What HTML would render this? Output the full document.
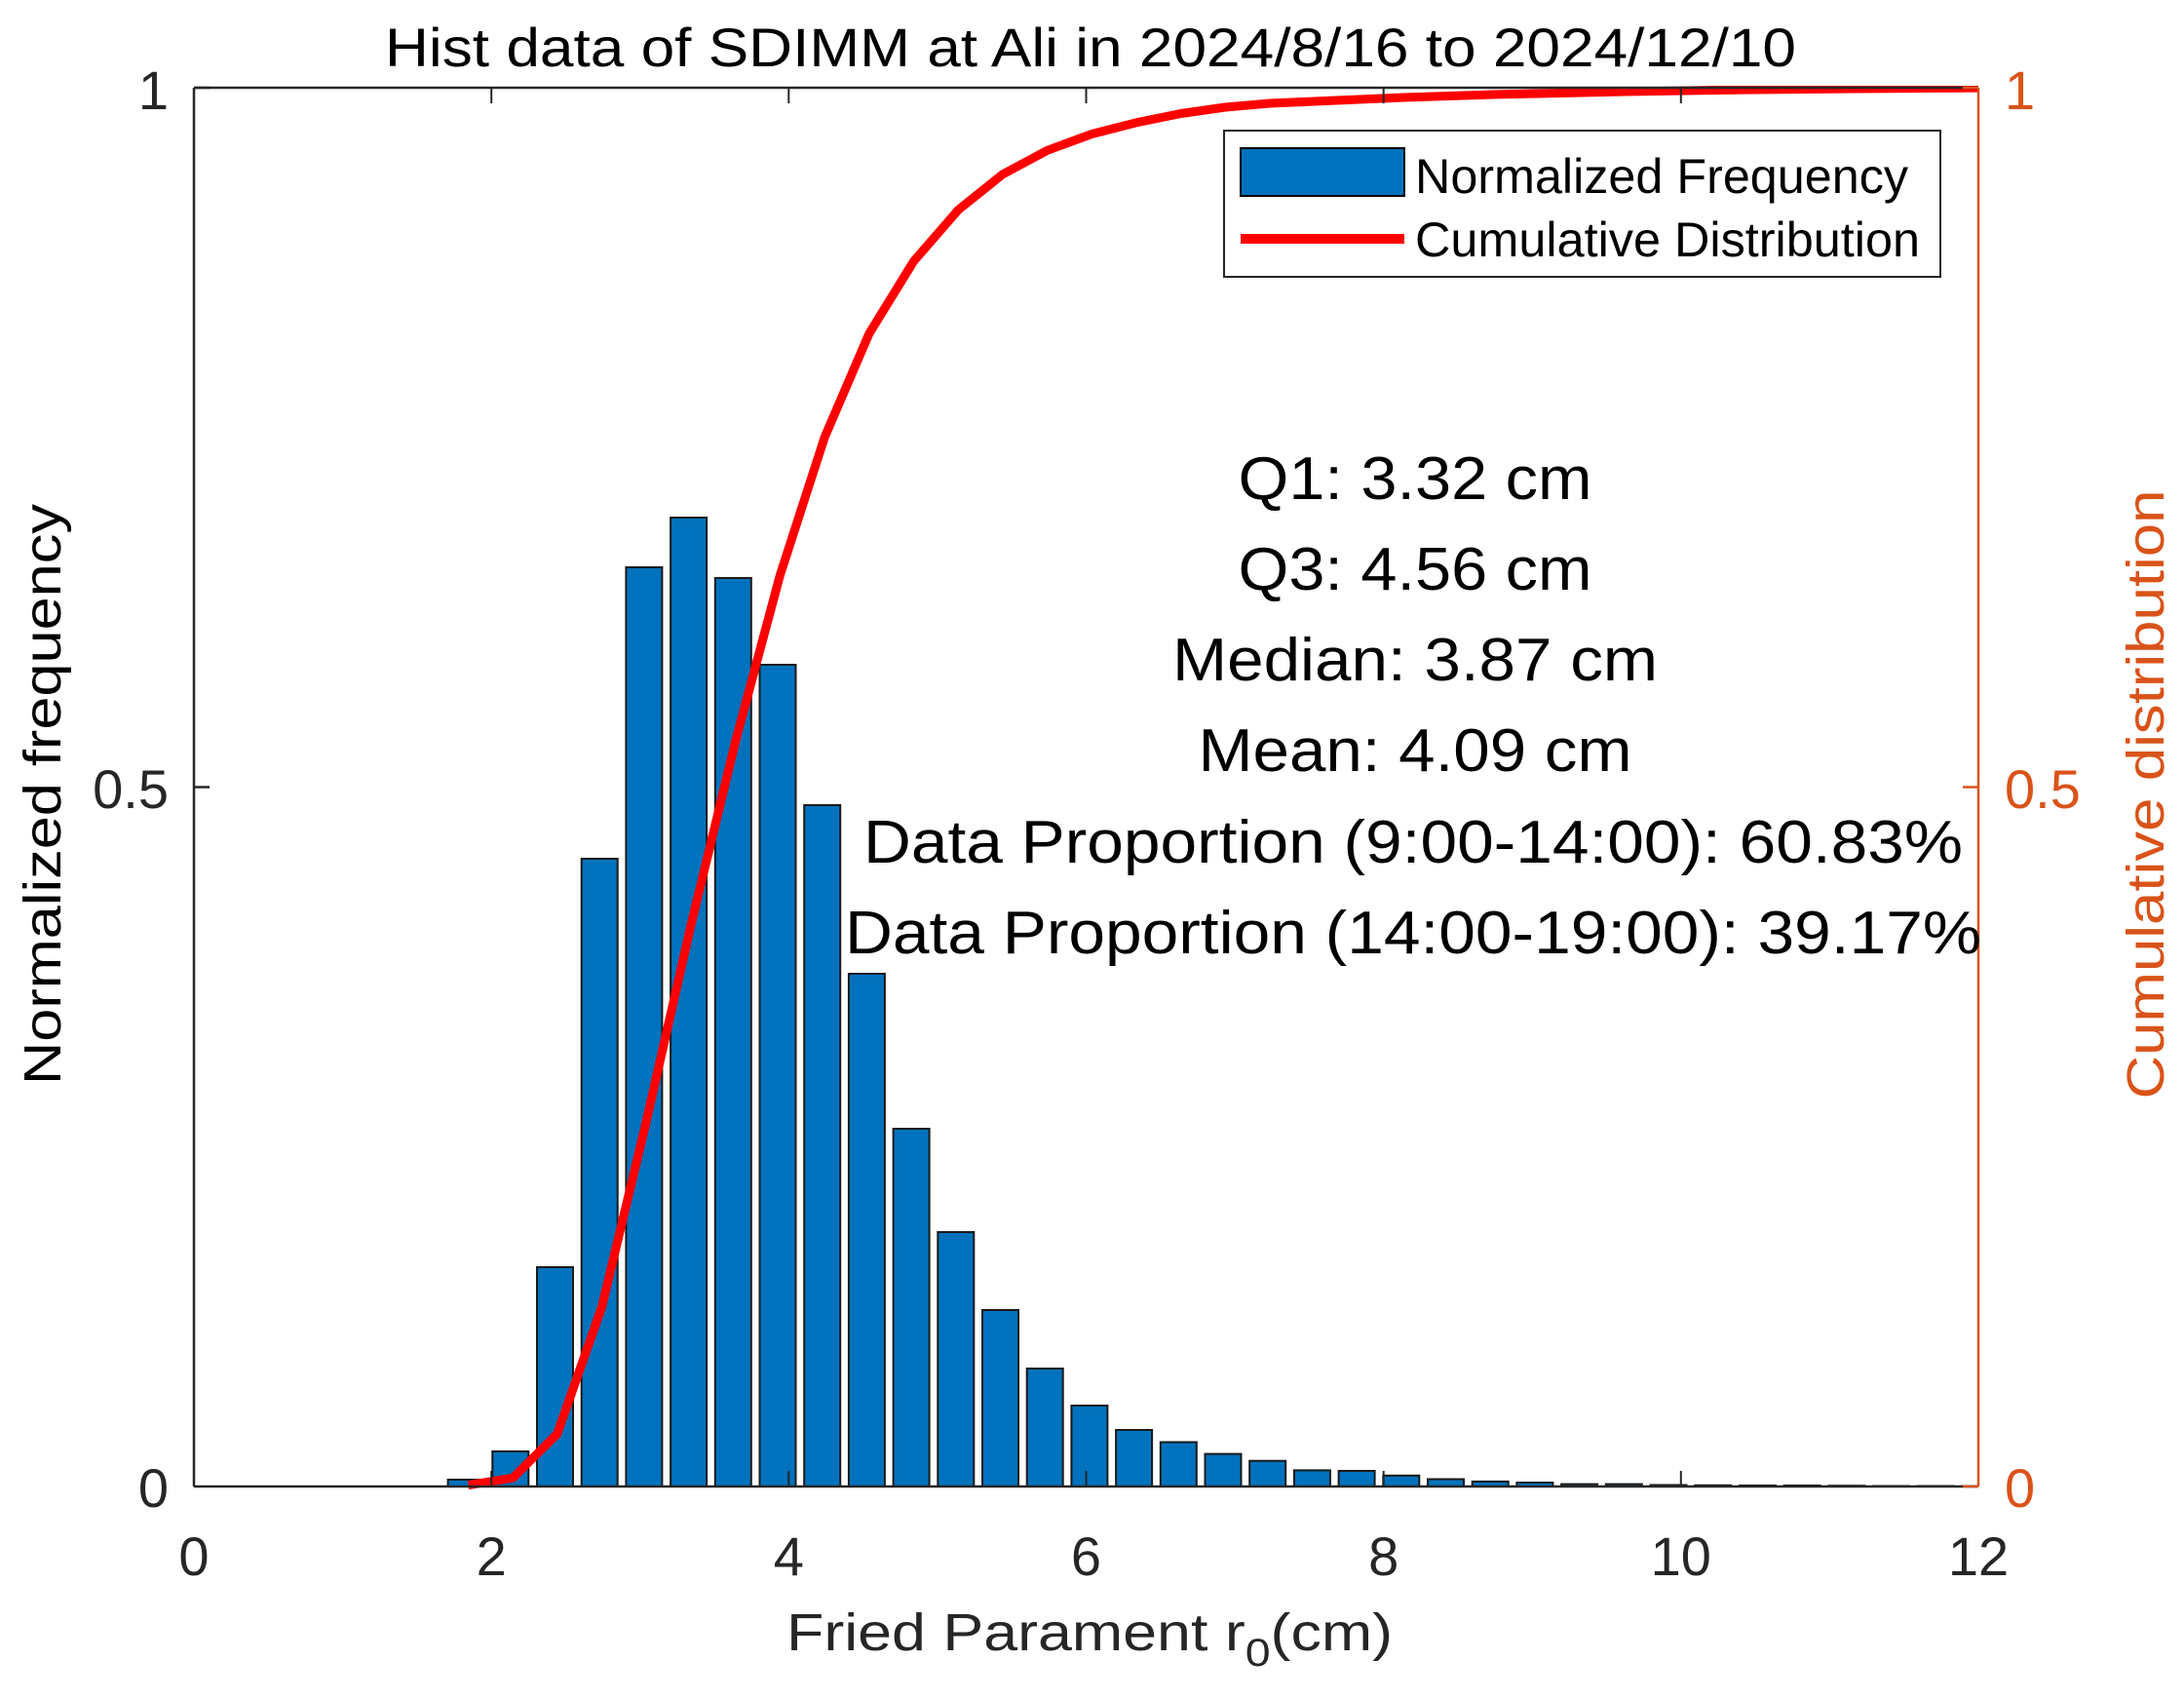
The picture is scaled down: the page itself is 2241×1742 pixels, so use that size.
<!DOCTYPE html>
<html><head><meta charset="utf-8"><style>html,body{margin:0;padding:0;background:#fff}svg{display:block}</style></head>
<body>
<svg width="2241" height="1742" viewBox="0 0 2241 1742" xmlns="http://www.w3.org/2000/svg" font-family="Liberation Sans, Arial, sans-serif">
<defs><clipPath id="c"><rect x="199" y="88" width="1831" height="1440"/></clipPath></defs>
<rect width="2241" height="1742" fill="#fff"/>
<g clip-path="url(#c)" fill="#0072BD" stroke="#1a1a1a" stroke-width="2">
<rect x="459.6" y="1518" width="37" height="7"/>
<rect x="505.3" y="1489" width="37" height="36"/>
<rect x="551" y="1300" width="37" height="225"/>
<rect x="596.7" y="881" width="37" height="644"/>
<rect x="642.4" y="582" width="37" height="943"/>
<rect x="688.1" y="531" width="37" height="994"/>
<rect x="733.8" y="593" width="37" height="932"/>
<rect x="779.5" y="682" width="37" height="843"/>
<rect x="825.2" y="826" width="37" height="699"/>
<rect x="870.9" y="999" width="37" height="526"/>
<rect x="916.6" y="1158" width="37" height="367"/>
<rect x="962.3" y="1264" width="37" height="261"/>
<rect x="1008" y="1344" width="37" height="181"/>
<rect x="1053.7" y="1404" width="37" height="121"/>
<rect x="1099.4" y="1442" width="37" height="83"/>
<rect x="1145.1" y="1467" width="37" height="58"/>
<rect x="1190.8" y="1479.5" width="37" height="45.5"/>
<rect x="1236.5" y="1491.6" width="37" height="33.4"/>
<rect x="1282.2" y="1498.7" width="37" height="26.3"/>
<rect x="1327.9" y="1508.4" width="37" height="16.6"/>
<rect x="1373.6" y="1509" width="37" height="16"/>
<rect x="1419.3" y="1513.8" width="37" height="11.2"/>
<rect x="1465" y="1517.5" width="37" height="7.5"/>
<rect x="1510.7" y="1519.9" width="37" height="5.1"/>
<rect x="1556.4" y="1521" width="37" height="4"/>
<rect x="1602.1" y="1522.6" width="37" height="2.4"/>
<rect x="1647.8" y="1522.6" width="37" height="2.4"/>
<rect x="1693.5" y="1523.5" width="37" height="1.5"/>
<rect x="1739.2" y="1523.8" width="37" height="1.2"/>
<rect x="1784.9" y="1524" width="37" height="1"/>
<rect x="1830.6" y="1524" width="37" height="1"/>
<rect x="1876.3" y="1524.2" width="37" height="0.8"/>
<rect x="1922" y="1524.5" width="37" height="0.5"/>
<rect x="1967.7" y="1524.5" width="37" height="0.5"/>
<rect x="2013.4" y="1524.7" width="37" height="0.3"/>
</g>
<g clip-path="url(#c)">
<polyline fill="none" stroke="#ff0000" stroke-width="9" stroke-linejoin="round" points="480.5,1523.6 526.2,1516.3 571.9,1470.8 617.6,1340.6 663.3,1149.9 709,949 754.7,760.5 800.4,590.1 846.1,448.7 891.8,342.3 937.5,268.1 983.2,215.4 1028.9,178.8 1074.6,154.3 1120.3,137.5 1166,125.8 1211.7,116.5 1257.4,110 1303.1,106 1348.8,104 1394.5,102 1440.2,100 1485.9,98.5 1531.6,97 1577.3,96 1668.7,94 1760,92.5 1900,91 2040,90"/>
</g>
<g stroke="#262626" stroke-width="2.5" fill="none">
<line x1="199" y1="90" x2="2030" y2="90"/>
<line x1="199" y1="90" x2="199" y2="1525"/>
<line x1="199" y1="1525" x2="2030" y2="1525"/>
<line x1="199" y1="807.5" x2="215" y2="807.5"/>
<line x1="199" y1="90" x2="215" y2="90"/>
</g>
<g stroke="#262626" stroke-width="2">
<line x1="504.2" y1="1525" x2="504.2" y2="1509"/><line x1="809.3" y1="1525" x2="809.3" y2="1509"/><line x1="1114.5" y1="1525" x2="1114.5" y2="1509"/><line x1="1419.7" y1="1525" x2="1419.7" y2="1509"/><line x1="1724.8" y1="1525" x2="1724.8" y2="1509"/>
<line x1="504.2" y1="90" x2="504.2" y2="106"/><line x1="809.3" y1="90" x2="809.3" y2="106"/><line x1="1114.5" y1="90" x2="1114.5" y2="106"/><line x1="1419.7" y1="90" x2="1419.7" y2="106"/><line x1="1724.8" y1="90" x2="1724.8" y2="106"/>
</g>
<g stroke="#D95319" stroke-width="2.5">
<line x1="2030" y1="90" x2="2030" y2="1525"/>
<line x1="2030" y1="90" x2="2014" y2="90"/>
<line x1="2030" y1="807.5" x2="2014" y2="807.5"/>
<line x1="2030" y1="1525" x2="2014" y2="1525"/>
</g>
<g font-size="56" fill="#262626" text-anchor="end">
<text x="173" y="1546">0</text>
<text x="173" y="829">0.5</text>
<text x="173" y="112">1</text>
</g>
<g font-size="56" fill="#D95319" text-anchor="start">
<text x="2057" y="1546">0</text>
<text x="2057" y="829">0.5</text>
<text x="2057" y="112">1</text>
</g>
<g font-size="56" fill="#262626" text-anchor="middle">
<text x="199" y="1616">0</text>
<text x="504.2" y="1616">2</text>
<text x="809.3" y="1616">4</text>
<text x="1114.5" y="1616">6</text>
<text x="1419.7" y="1616">8</text>
<text x="1724.8" y="1616">10</text>
<text x="2030" y="1616">12</text>
</g>
<text x="807" y="1693" font-size="54" fill="#262626" textLength="622" lengthAdjust="spacingAndGlyphs">Fried Parament r<tspan font-size="40" dy="16">0</tspan><tspan dy="-16">(cm)</tspan></text>
<text transform="translate(62,815) rotate(-90)" text-anchor="middle" font-size="54" fill="#000" textLength="596" lengthAdjust="spacingAndGlyphs">Normalized frequency</text>
<text transform="translate(2220,815) rotate(-90)" text-anchor="middle" font-size="54" fill="#D95319" textLength="625" lengthAdjust="spacingAndGlyphs">Cumulative distribution</text>
<text x="1119" y="68" text-anchor="middle" font-size="56" fill="#000" textLength="1448" lengthAdjust="spacingAndGlyphs">Hist data of SDIMM at Ali in 2024/8/16 to 2024/12/10</text>
<rect x="1256" y="134" width="735" height="150" fill="#fff" stroke="#262626" stroke-width="2"/>
<rect x="1273" y="152" width="168" height="49" fill="#0072BD" stroke="#000" stroke-width="2"/>
<line x1="1273" y1="245" x2="1441" y2="245" stroke="#ff0000" stroke-width="10"/>
<text x="1452" y="198" font-size="50" fill="#000" textLength="506" lengthAdjust="spacingAndGlyphs">Normalized Frequency</text>
<text x="1452" y="263" font-size="50" fill="#000" textLength="518" lengthAdjust="spacingAndGlyphs">Cumulative Distribution</text>
<g font-size="62" fill="#000" text-anchor="middle">
<text x="1452" y="512" textLength="363" lengthAdjust="spacingAndGlyphs">Q1: 3.32 cm</text>
<text x="1452" y="605" textLength="363" lengthAdjust="spacingAndGlyphs">Q3: 4.56 cm</text>
<text x="1452" y="698" textLength="498" lengthAdjust="spacingAndGlyphs">Median: 3.87 cm</text>
<text x="1452" y="791" textLength="445" lengthAdjust="spacingAndGlyphs">Mean: 4.09 cm</text>
<text x="1450" y="885" textLength="1128" lengthAdjust="spacingAndGlyphs">Data Proportion (9:00-14:00): 60.83%</text>
<text x="1450" y="978" textLength="1166" lengthAdjust="spacingAndGlyphs">Data Proportion (14:00-19:00): 39.17%</text>
</g>
</svg>
</body></html>
